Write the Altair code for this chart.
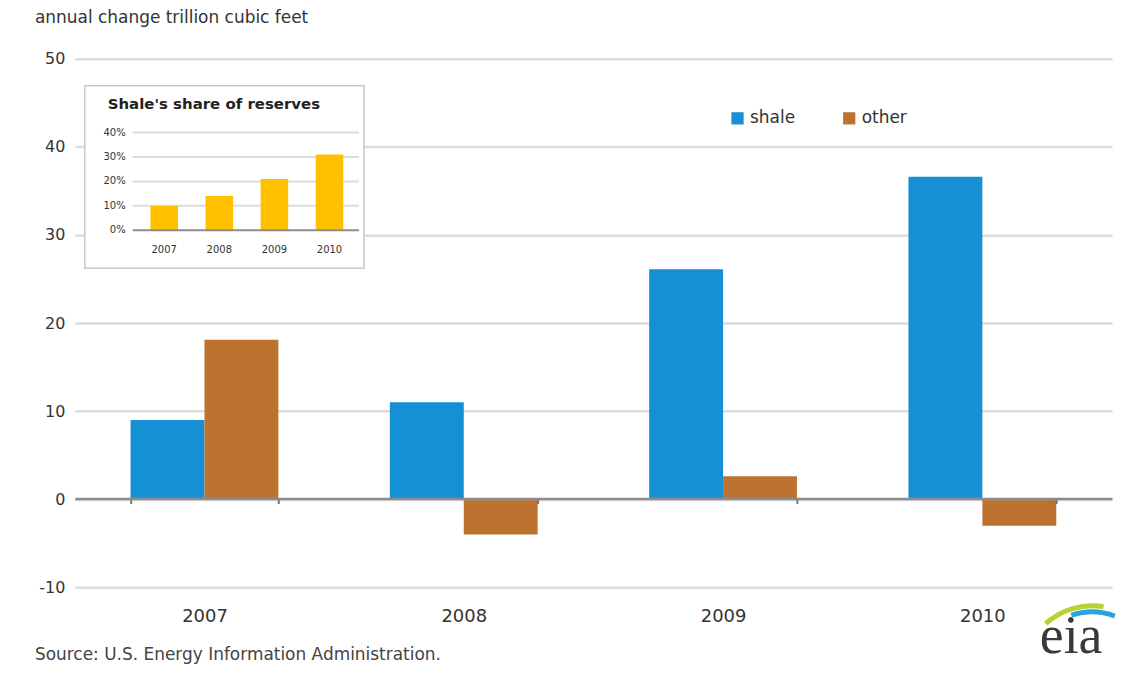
import altair as alt
import pandas as pd

# ---- data ----
years = ["2007", "2008", "2009", "2010"]
series = ["shale", "other"]
shale = [9.0, 11.0, 26.1, 36.6]
other = [18.1, -4.0, 2.6, -3.0]
shale_share = [10, 14, 21, 31]
y_ticks = [-10, 0, 10, 20, 30, 40, 50]
inset_ticks = [0, 10, 20, 30, 40]
colors = ["#1590d4", "#bd7330"]
title_text = ["annual change  trillion cubic feet"]
source_text = ["Source: U.S. Energy Information Administration."]
inset_title = ["Shale's share of reserves"]
logo_text = ["eia"]

W, H = 1040, 530
FONT = "DejaVu Sans"

main_df = pd.DataFrame({
    "year": years * 2,
    "series": ["shale"] * len(years) + ["other"] * len(years),
    "value": shale + other,
})
inset_df = pd.DataFrame({"year": years, "share": shale_share})
grid_df = pd.DataFrame({"share": inset_ticks[1:]})
ilab_df = pd.DataFrame({"share": inset_ticks})
zero_df = pd.DataFrame({"share": [0]})
one = pd.DataFrame({"a": [0]})

bars = alt.Chart(main_df).mark_bar().encode(
    x=alt.X("year:N", sort=years, title=None,
            scale=alt.Scale(paddingInner=0.43, paddingOuter=0.215),
            axis=alt.Axis(orient="bottom", offset=-89, labelPadding=104, labelAngle=0,
                          labelFontSize=18, labelColor="#333", domain=True,
                          domainColor="#8c8c8c", domainWidth=2.5, tickBand="extent",
                          tickSize=5, tickColor="#777", tickWidth=2, grid=False, zindex=1)),
    xOffset=alt.XOffset("series:N", sort=series),
    y=alt.Y("value:Q", title=None, scale=alt.Scale(domain=[-10, 50], nice=False),
            axis=alt.Axis(orient="left", values=y_ticks, domain=False, ticks=False,
                          labelExpr="datum.value + ''",
                          labelPadding=10, labelFontSize=16, labelColor="#333",
                          gridColor="#dcdcdc", gridWidth=2.5)),
    color=alt.Color("series:N", sort=series,
                    scale=alt.Scale(domain=series, range=colors),
                    legend=alt.Legend(title=None, orient="none", legendX=656, legendY=51,
                                      direction="horizontal", symbolType="square",
                                      symbolSize=150, symbolStrokeWidth=0,
                                      labelFontSize=17, labelColor="#333",
                                      columnPadding=45, labelOffset=4)),
)

box = alt.Chart(one).mark_rect(fill="white", stroke="#c8c8c8", strokeWidth=1.5).encode(
    x=alt.value(10), x2=alt.value(290), y=alt.value(27), y2=alt.value(210))

ititle = alt.Chart(pd.DataFrame({"t": inset_title})).mark_text(
    align="left", baseline="middle", fontWeight="bold", fontSize=15, color="#222").encode(
    text="t:N", x=alt.value(33), y=alt.value(45))

ixscale = alt.Scale(domain=years, range=[62, 283], paddingInner=0.5, paddingOuter=0.25)
iscale = alt.Scale(domain=[0, 40], range=[172, 74], nice=False)
ix = alt.X("year:N", sort=years, title=None, scale=ixscale, axis=None)
iy = alt.Y("share:Q", title=None, scale=iscale, axis=None)

igrid = alt.Chart(grid_df).mark_rule(color="#dcdcdc", strokeWidth=2).encode(
    y=iy, x=alt.value(58), x2=alt.value(285))
ibars = alt.Chart(inset_df).mark_bar(color="#ffc000").encode(x=ix, y=iy)
ibase = alt.Chart(zero_df).mark_rule(color="#8c8c8c", strokeWidth=2).encode(
    y=iy, x=alt.value(58), x2=alt.value(285))
ixlab = alt.Chart(inset_df).mark_text(fontSize=10, color="#333", baseline="middle").encode(
    x=ix, y=alt.value(192), text="year:N")
iylab = alt.Chart(ilab_df).transform_calculate(lab="datum.share + '%'").mark_text(
    fontSize=10, color="#333", align="right", baseline="middle").encode(
    y=iy, x=alt.value(51), text="lab:N")

title = alt.Chart(pd.DataFrame({"t": title_text})).mark_text(
    align="left", baseline="middle", fontSize=17, color="#333").encode(
    text="t:N", x=alt.value(-40), y=alt.value(-41))

source = alt.Chart(pd.DataFrame({"t": source_text})).mark_text(
    align="left", baseline="middle", fontSize=17, color="#444").encode(
    text="t:N", x=alt.value(-40), y=alt.value(598))

logo = alt.Chart(pd.DataFrame({"t": logo_text})).mark_text(
    align="center", baseline="alphabetic", fontSize=54, font="Liberation Serif",
    color="#3a3a3a").encode(text="t:N", x=alt.value(999), y=alt.value(596))

arc1 = alt.Chart(one).mark_arc(radius=72, radius2=67, theta=5.55, theta2=6.45,
                               color="#b5d334").encode(x=alt.value(1020), y=alt.value(618))
arc2 = alt.Chart(one).mark_arc(radius=66, radius2=61, theta=5.95, theta2=6.65,
                               color="#2aa3d8").encode(x=alt.value(1020), y=alt.value(618))

chart = alt.layer(bars, box, ititle, igrid, ibars, ibase, ixlab, iylab,
                  title, source, arc1, arc2, logo).resolve_scale(
    x="independent", y="independent"
).properties(
    width=W, height=H,
    autosize=alt.AutoSizeParams(type="none"),
    padding={"left": 67, "top": 50, "right": 5, "bottom": 80},
    view=alt.ViewBackground(stroke="transparent", strokeWidth=0),
).configure_view(stroke="transparent", strokeWidth=0).configure_axis(
    domain=False
).configure(font=FONT)

chart.save("out.html", embed_options={"renderer": "svg", "actions": False})
